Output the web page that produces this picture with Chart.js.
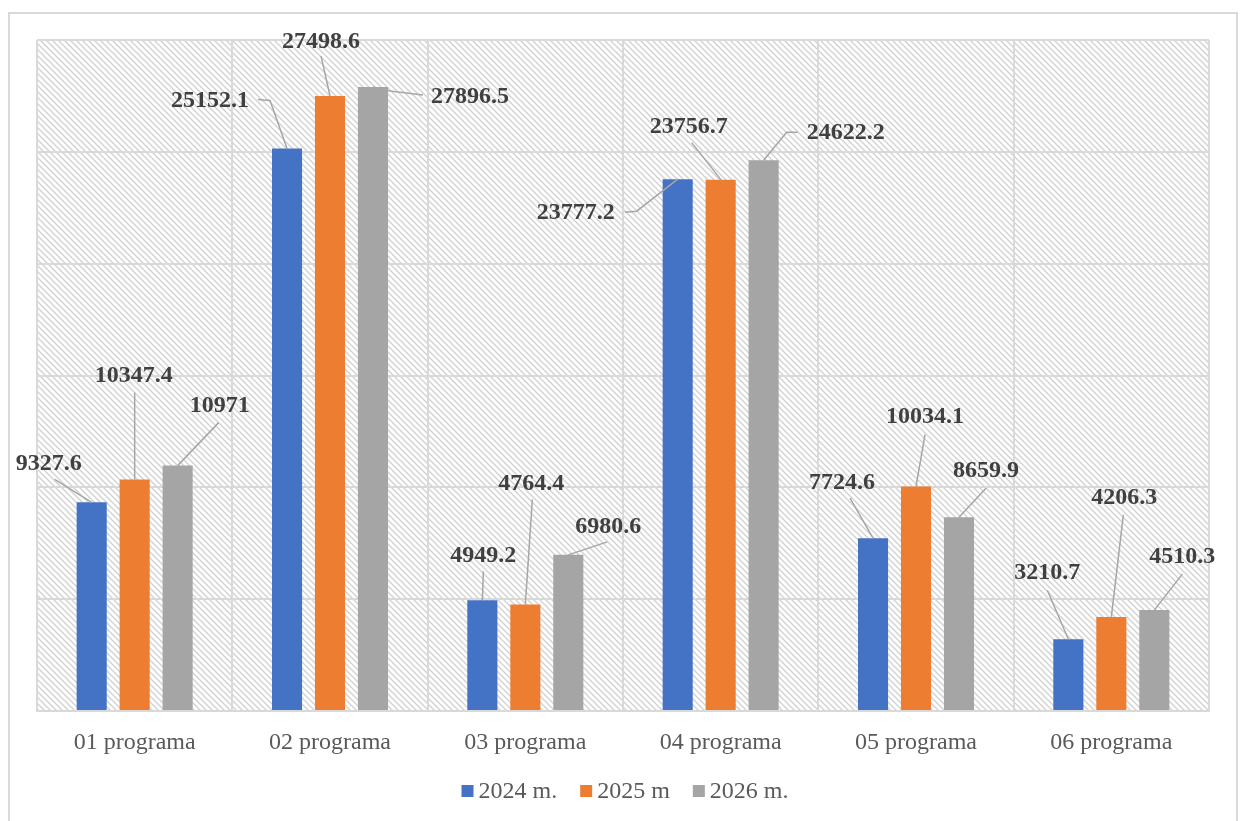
<!DOCTYPE html>
<html>
<head>
<meta charset="utf-8">
<script src="https://cdn.jsdelivr.net/npm/chart.js@4/dist/chart.umd.min.js"></script>
<style>
  html, body { margin: 0; padding: 0; background: #fff; }
  #wrap { position: relative; width: 1240px; height: 821px; }
</style>
</head>
<body>
<div id="wrap"><canvas id="chart" width="1240" height="821"></canvas></div>
<script>
// Datos del gráfico
const categories = ["01 programa", "02 programa", "03 programa", "04 programa", "05 programa", "06 programa"];
const seriesNames = ["2024 m.", "2025 m", "2026 m."];
const series2024 = [9327.6, 25152.1, 4949.2, 23777.2, 7724.6, 3210.7];
const series2025 = [10347.4, 27498.6, 4764.4, 23756.7, 10034.1, 4206.3];
const series2026 = [10971, 27896.5, 6980.6, 24622.2, 8659.9, 4510.3];
const yMax = 30000;
const yStep = 5000;

const COLORS = ["#4472C4", "#ED7D31", "#A5A5A5"];
const SERIF = '"Liberation Serif", "Times New Roman", serif';

// posiciones de etiquetas (offset desde el tope de la barra) y líneas guía
const LABEL_POS = [
  [
    { d: [-43, -39], l: [[-37, -23], [0, 0]] },
    { d: [-77, -48], l: [[-29, -49], [-17, -48], [0, 0]] },
    { d: [1, -45], l: [[1, -29], [0, 0]] },
    { d: [-102, 34], l: [[-53, 33], [-41, 32], [0, 0]] },
    { d: [-31, -55], l: [[-23, -40], [0, 0]] },
    { d: [-21, -66], l: [[-21, -49], [0, 0]] },
  ],
  [
    { d: [-1, -104], l: [[0, -87], [0, 0]] },
    { d: [-9, -54], l: [[-9, -40], [0, 0]] },
    { d: [6, -121], l: [[7, -105], [0, 0]] },
    { d: [-32, -53], l: [[-29, -37], [1, 1]] },
    { d: [9, -70], l: [[9, -52], [0, 0]] },
    { d: [13, -119], l: [[12, -102], [0, 0]] },
  ],
  [
    { d: [42, -60], l: [[41, -43], [0, 0]] },
    { d: [97, 10], l: [[0, 0], [17, 4], [50, 8]] },
    { d: [40, -28], l: [[39, -13], [0, 0]] },
    { d: [82, -27], l: [[0, 0], [23, -28], [34, -28]] },
    { d: [27, -47], l: [[27, -29], [0, 0]] },
    { d: [28, -53], l: [[28, -36], [0, 0]] },
  ],
];

function hatchPattern(ctx) {
  const c = document.createElement("canvas");
  c.width = 6; c.height = 6;
  const g = c.getContext("2d");
  g.fillStyle = "#fff";
  g.fillRect(0, 0, 6, 6);
  g.strokeStyle = "#d0d0d0";
  g.lineWidth = 1.3;
  g.beginPath();
  g.moveTo(-1, -1); g.lineTo(7, 7);
  g.moveTo(-4, 2); g.lineTo(4, 10);
  g.moveTo(2, -4); g.lineTo(10, 4);
  g.stroke();
  return ctx.createPattern(c, "repeat");
}

const backdrop = {
  id: "backdrop",
  beforeDraw(chart) {
    const { ctx, chartArea: a } = chart;
    ctx.save();
    ctx.fillStyle = "#fff";
    ctx.fillRect(0, 0, chart.width, chart.height);
    ctx.strokeStyle = "#d9d9d9";
    ctx.lineWidth = 2;
    ctx.strokeRect(9, 13, 1228, 830);
    ctx.fillStyle = hatchPattern(ctx);
    ctx.fillRect(a.left, a.top, a.right - a.left, a.bottom - a.top);
    ctx.restore();
  },
};

const barLabels = {
  id: "barLabels",
  afterDatasetsDraw(chart) {
    const ctx = chart.ctx;
    ctx.save();
    chart.data.datasets.forEach((ds, i) => {
      chart.getDatasetMeta(i).data.forEach((bar, j) => {
        const p = LABEL_POS[i][j];
        ctx.strokeStyle = "#a6a6a6";
        ctx.lineWidth = 1.5;
        ctx.beginPath();
        p.l.forEach(([dx, dy], k) => {
          if (k === 0) ctx.moveTo(bar.x + dx, bar.y + dy);
          else ctx.lineTo(bar.x + dx, bar.y + dy);
        });
        ctx.stroke();
        ctx.fillStyle = "#404040";
        ctx.font = "bold 24px " + SERIF;
        ctx.textAlign = "center";
        ctx.textBaseline = "middle";
        ctx.fillText(String(ds.data[j]), bar.x + p.d[0], bar.y + p.d[1]);
      });
    });
    ctx.restore();
  },
};

const bottomLegend = {
  id: "bottomLegend",
  afterDraw(chart) {
    const ctx = chart.ctx;
    ctx.save();
    ctx.font = "24px " + SERIF;
    ctx.textBaseline = "middle";
    const box = 12, gap = 5, spacing = 23, y = 791;
    const widths = chart.data.datasets.map((d) => box + gap + ctx.measureText(d.label).width);
    const total = widths.reduce((a, b) => a + b, 0) + spacing * (widths.length - 1);
    let x = 625 - total / 2;
    chart.data.datasets.forEach((d, i) => {
      ctx.fillStyle = d.backgroundColor;
      ctx.fillRect(x, y - box / 2, box, box);
      ctx.fillStyle = "#595959";
      ctx.fillText(d.label, x + box + gap, y + 1);
      x += widths[i] + spacing;
    });
    ctx.restore();
  },
};

const allSeries = [series2024, series2025, series2026];

new Chart(document.getElementById("chart"), {
  type: "bar",
  data: {
    labels: categories,
    datasets: allSeries.map((data, i) => ({
      label: seriesNames[i],
      data,
      backgroundColor: COLORS[i],
      categoryPercentage: 0.66,
      barPercentage: 0.7,
    })),
  },
  options: {
    responsive: false,
    animation: false,
    layout: { padding: { left: 37, right: 31, top: 40, bottom: 0 } },
    plugins: { legend: { display: false }, tooltip: { enabled: false } },
    scales: {
      x: {
        grid: { color: "#d9d9d9", lineWidth: 2, drawTicks: false, offset: true },
        border: { color: "#d9d9d9", width: 2 },
        ticks: { color: "#595959", font: { family: SERIF, size: 24 }, padding: 17 },
        afterFit: (s) => { s.height = 110; },
      },
      y: {
        min: 0,
        max: yMax,
        ticks: { display: false, stepSize: yStep },
        grid: { color: "#d9d9d9", lineWidth: 2, drawTicks: false },
        border: { display: false },
        afterFit: (s) => { s.width = 0; },
      },
    },
  },
  plugins: [backdrop, barLabels, bottomLegend],
});
</script>
</body>
</html>
